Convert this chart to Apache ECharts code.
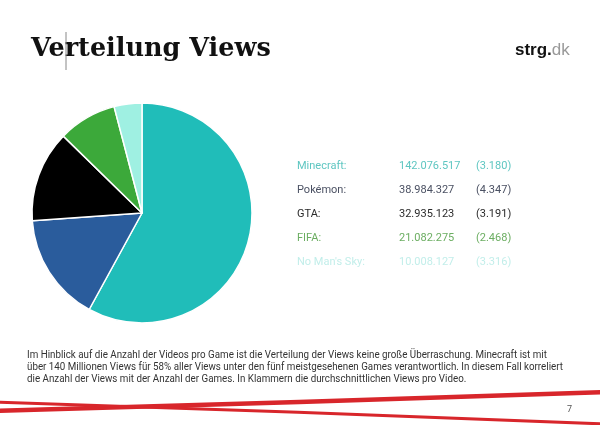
<!DOCTYPE html>
<html><head><meta charset="utf-8">
<script src="https://cdn.jsdelivr.net/npm/echarts@6/dist/echarts.min.js"></script>
<style>html,body{margin:0;padding:0;background:#fff}#c{width:600px;height:425px}</style>
</head><body><div id="c"></div>
<script>
const games = ['Minecraft', 'Pokémon', 'GTA', 'FIFA', "No Man's Sky"];
const views = [142076517, 38984327, 32935123, 21082275, 10008127];
const viewLabels = ['142.076.517', '38.984.327', '32.935.123', '21.082.275', '10.008.127'];
const avgLabels = ['(3.180)', '(4.347)', '(3.191)', '(2.468)', '(3.316)'];
const sliceColors = ['#20bdb9', '#2a5c9c', '#000000', '#3ca93a', '#9ff0e2'];
const textColors = ['#5ec6c1', '#4b5163', '#2b2b2b', '#6cae62', '#c2eeea'];
const bodyLines = [
  'Im Hinblick auf die Anzahl der Videos pro Game ist die Verteilung der Views keine große Überraschung. Minecraft ist mit',
  'über 140 Millionen Views für 58% aller Views unter den fünf meistgesehenen Games verantwortlich. In diesem Fall korreliert',
  'die Anzahl der Views mit der Anzahl der Games. In Klammern die durchschnittlichen Views pro Video.'
];

const chart = echarts.init(document.getElementById('c'), null, {renderer: 'canvas'});
const graphics = [];
graphics.push({type: 'text', left: 31, top: 36, style: {text: 'Verteilung Views', font: 'bold 25.5px "DejaVu Serif"', fill: '#111'}});
graphics.push({type: 'line', shape: {x1: 66, y1: 32, x2: 66, y2: 70}, style: {stroke: '#888', lineWidth: 1}});
graphics.push({type: 'text', left: 515, top: 42, style: {
  rich: {a: {font: 'bold 17px "Liberation Sans"', fill: '#111'}, b: {font: '17px "Liberation Sans"', fill: '#999'}},
  text: '{a|strg.}{b|dk}'}});
games.forEach((g, i) => {
  const y = 161 + i * 24;
  const font = '11px Roboto';
  graphics.push({type: 'text', left: 297, top: y, style: {text: g + ':', font, fill: textColors[i]}});
  graphics.push({type: 'text', left: 399, top: y, style: {text: viewLabels[i], font, fill: textColors[i]}});
  graphics.push({type: 'text', left: 476, top: y, style: {text: avgLabels[i], font, fill: textColors[i]}});
});
bodyLines.forEach((t, i) => {
  graphics.push({type: 'text', x: 27, y: 350 + i * 12, scaleX: 0.89,
    style: {x: 0, y: 0, text: t, font: '11px Roboto', fill: '#333', verticalAlign: 'top'}});
});
graphics.push({type: 'bezierCurve', shape: {x1: -5, y1: 411, x2: 605, y2: 392, cpx1: 200, cpy1: 404, cpx2: 400, cpy2: 400}, style: {stroke: '#d8262b', lineWidth: 4.5, fill: null}});
graphics.push({type: 'bezierCurve', shape: {x1: -5, y1: 402, x2: 605, y2: 424, cpx1: 200, cpy1: 408, cpx2: 400, cpy2: 416}, style: {stroke: '#d8262b', lineWidth: 3, fill: null}});
graphics.push({type: 'text', left: 567, top: 405, style: {text: '7', font: '9px Roboto', fill: '#555'}});

chart.setOption({
  animation: false,
  backgroundColor: '#fff',
  graphic: graphics,
  series: [{
    type: 'pie',
    center: [142, 213],
    radius: 110,
    startAngle: 90,
    clockwise: true,
    label: {show: false},
    labelLine: {show: false},
    itemStyle: {borderColor: '#fff', borderWidth: 1.5},
    data: games.map((g, i) => ({name: g, value: views[i], itemStyle: {color: sliceColors[i]}}))
  }]
});
</script></body></html>
